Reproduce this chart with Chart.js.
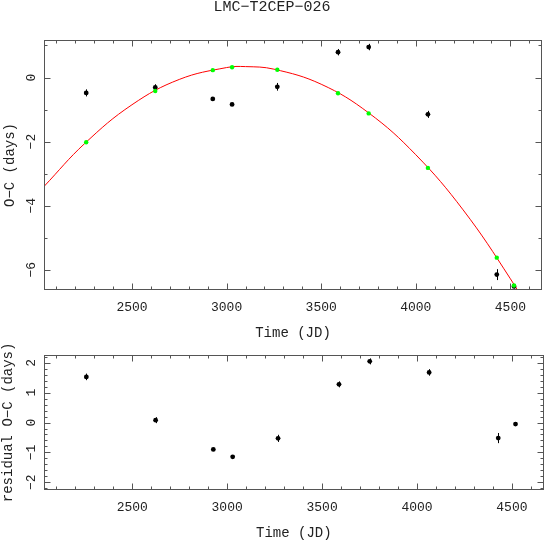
<!DOCTYPE html>
<html>
<head>
<meta charset="utf-8">
<script src="https://cdn.jsdelivr.net/npm/chart.js@4.4.0/dist/chart.umd.min.js"></script>
<style>
  body { margin: 0; background: #fff; }
  #wrap { position: relative; width: 546px; height: 542px; }
  canvas { position: absolute; left: 0; }
</style>
</head>
<body>
<div id="wrap">
  <canvas id="top" width="546" height="342" style="top:0"></canvas>
  <canvas id="bottom" width="546" height="200" style="top:342px"></canvas>
</div>
<script>
const starName = 'LMC\u2212T2CEP\u2212026';

// observations (JD offset) and O-C in days
const jd = [2258, 2623, 2927, 3029, 3268, 3589, 3751, 4064, 4428, 4519];
const oc = [-0.48, -0.31, -0.67, -0.84, -0.29, 0.79, 0.95, -1.15, -6.15, -6.52];
const ocErr = [0.11, 0.10, 0.05, 0.05, 0.12, 0.10, 0.10, 0.11, 0.17, 0.06];
// fitted values at the observation times (green)
const fitAtObs = [-2.02, -0.42, 0.23, 0.32, 0.24, -0.49, -1.12, -2.82, -5.62, -6.49];
// residuals (bottom panel)
const residual = [1.53, 0.08, -0.90, -1.15, -0.53, 1.28, 2.05, 1.68, -0.52, -0.05];

// red fit curve
const curveJd = [2035, 2250, 2500, 2750, 3000, 3100, 3250, 3500, 3750, 4000, 4250, 4500, 4650];
const curveOc = [-3.40, -2.06, -0.85, -0.06, 0.31, 0.34, 0.26, -0.21, -1.10, -2.41, -4.13, -6.28, -7.77];

const xTicks = [2500, 3000, 3500, 4000, 4500];
const ocTicks = [-6, -4, -2, 0];
const resTicks = [-2, -1, 0, 1, 2];

const FONT = "'Liberation Mono', monospace";
const TEXT = '#222';
const minus = v => String(v).replace('-', '\u2212');
const pts = (xs, ys) => xs.map((x, i) => ({ x: x, y: ys[i] }));

// vertical error bars for datasets carrying an errors array
const errorBars = {
  id: 'errorBars',
  afterDatasetDraw(chart, args) {
    const ds = chart.data.datasets[args.index];
    if (!ds.errors) return;
    const { ctx, scales: { x, y } } = chart;
    ctx.save();
    ctx.strokeStyle = '#000';
    ctx.lineWidth = 1;
    ds.data.forEach((p, i) => {
      const px = Math.round(x.getPixelForValue(p.x)) + 0.5;
      ctx.beginPath();
      ctx.moveTo(px, y.getPixelForValue(p.y - ds.errors[i]));
      ctx.lineTo(px, y.getPixelForValue(p.y + ds.errors[i]));
      ctx.stroke();
    });
    ctx.restore();
  }
};

// box around the plot with inward ticks on all four sides
const frameTicks = {
  id: 'frameTicks',
  afterDraw(chart, args, opts) {
    const { ctx, chartArea: a, scales: { x, y } } = chart;
    const L = Math.round(a.left) + 0.5, R = Math.round(a.right) - 0.5;
    const T = Math.round(a.top) + 0.5, B = Math.round(a.bottom) - 0.5;
    ctx.save();
    ctx.strokeStyle = '#555';
    ctx.lineWidth = 1;
    ctx.strokeRect(L, T, R - L, B - T);
    ctx.beginPath();
    const xMaj = x.ticks.map(t => t.value);
    for (let v = Math.ceil(x.min / opts.xMinor) * opts.xMinor; v <= x.max; v += opts.xMinor) {
      const len = xMaj.some(m => Math.abs(m - v) < 1e-6) ? 6 : 3;
      const px = Math.round(x.getPixelForValue(v)) + 0.5;
      ctx.moveTo(px, B); ctx.lineTo(px, B - len);
      ctx.moveTo(px, T); ctx.lineTo(px, T + len);
    }
    const yMaj = y.ticks.map(t => t.value);
    const start = Math.ceil(y.min / opts.yMinor - 1e-9);
    for (let k = start; k * opts.yMinor <= y.max + 1e-9; k++) {
      const v = k * opts.yMinor;
      const len = yMaj.some(m => Math.abs(m - v) < 1e-6) ? 6 : 3;
      const py = Math.round(y.getPixelForValue(v)) + 0.5;
      ctx.moveTo(L, py); ctx.lineTo(L + len, py);
      ctx.moveTo(R, py); ctx.lineTo(R - len, py);
    }
    ctx.stroke();
    ctx.restore();
  }
};

function xScale() {
  return {
    type: 'linear',
    min: 2035,
    max: 4667,
    afterBuildTicks: s => { s.ticks = xTicks.map(v => ({ value: v })); },
    afterFit: s => { s.height = 52; },
    grid: { display: false, drawTicks: false },
    border: { display: false },
    ticks: { color: TEXT, font: { family: FONT, size: 13 }, padding: 10, maxRotation: 0, callback: v => String(v) },
    title: { display: true, text: 'Time (JD)', color: TEXT, font: { family: FONT, size: 14 }, padding: { top: 0, bottom: 0 } }
  };
}

function yScale(min, max, ticks, label, titlePad) {
  return {
    type: 'linear',
    min: min,
    max: max,
    afterBuildTicks: s => { s.ticks = ticks.map(v => ({ value: v })); },
    afterFit: s => { s.width = 44; },
    grid: { display: false, drawTicks: false },
    border: { display: false },
    ticks: {
      color: TEXT, font: { family: FONT, size: 13 }, padding: 5,
      minRotation: 90, maxRotation: 90, crossAlign: 'center',
      callback: v => minus(v)
    },
    title: { display: true, text: label, color: TEXT, font: { family: FONT, size: 14 }, padding: { top: titlePad, bottom: 0 } }
  };
}

const blackPts = (ys) => ({
  data: pts(jd, ys),
  errors: ocErr,
  backgroundColor: '#000',
  borderWidth: 0,
  pointRadius: 2.4,
  pointHoverRadius: 2.4
});

new Chart(document.getElementById('top'), {
  type: 'scatter',
  data: {
    datasets: [
      {
        data: pts(jd, fitAtObs),
        backgroundColor: '#00ff00',
        borderWidth: 0,
        pointRadius: 2.2
      },
      blackPts(oc),
      {
        data: pts(curveJd, curveOc),
        showLine: true,
        borderColor: '#ff0000',
        borderWidth: 1,
        pointRadius: 0,
        tension: 0.4,
        clip: 0
      }
    ]
  },
  options: {
    responsive: false,
    animation: false,
    devicePixelRatio: 1,
    layout: { padding: { left: 0, right: 2, top: 0, bottom: 0 } },
    scales: {
      x: xScale(),
      y: yScale(-6.63, 1.17, ocTicks, 'O\u2212C (days)', 2)
    },
    plugins: {
      legend: { display: false },
      tooltip: { enabled: false },
      title: {
        display: true,
        text: starName,
        color: TEXT,
        font: { family: FONT, size: 15, weight: 'normal', lineHeight: 1 },
        padding: { top: 0, bottom: 25 }
      },
      frameTicks: { xMinor: 100, yMinor: 1 }
    }
  },
  plugins: [errorBars, frameTicks]
});

new Chart(document.getElementById('bottom'), {
  type: 'scatter',
  data: { datasets: [blackPts(residual)] },
  options: {
    responsive: false,
    animation: false,
    devicePixelRatio: 1,
    layout: { padding: { left: 0, right: 2, top: 8, bottom: 0 } },
    scales: {
      x: xScale(),
      y: yScale(-2.26, 2.27, resTicks, 'residual O\u2212C (days)', 0)
    },
    plugins: {
      legend: { display: false },
      tooltip: { enabled: false },
      frameTicks: { xMinor: 100, yMinor: 0.2 }
    }
  },
  plugins: [errorBars, frameTicks]
});
</script>
</body>
</html>
